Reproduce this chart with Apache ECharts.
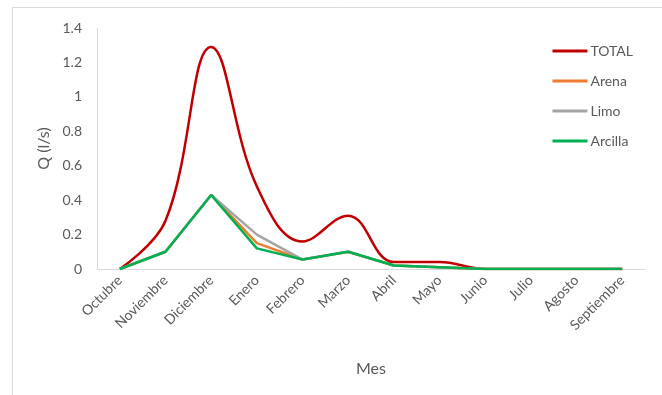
<!DOCTYPE html>
<html><head><meta charset="utf-8">
<script src="https://cdn.jsdelivr.net/npm/echarts@6/dist/echarts.min.js"></script>
<style>html,body{margin:0;padding:0;background:#fff}#c{width:662px;height:395px}</style>
</head><body><div id="c"></div>
<script>
const categories = ['Octubre','Noviembre','Diciembre','Enero','Febrero','Marzo','Abril','Mayo','Junio','Julio','Agosto','Septiembre'];
const total   = [0, 0.28, 1.29, 0.48, 0.16, 0.31, 0.04, 0.04, 0, 0, 0, 0];
const arena   = [0, 0.10, 0.43, 0.15, 0.055, 0.10, 0.02, 0.01, 0, 0, 0, 0];
const limo    = [0, 0.10, 0.43, 0.20, 0.055, 0.10, 0.02, 0.01, 0, 0, 0, 0];
const arcilla = [0, 0.10, 0.43, 0.12, 0.055, 0.10, 0.02, 0.01, 0, 0, 0, 0];
const yTicks = [0, 0.2, 0.4, 0.6, 0.8, 1, 1.2, 1.4];

const FONT = 'Lato';
const TXT = '#595959';
const chart = echarts.init(document.getElementById('c'), null, {renderer:'canvas'});
function line(name, data, color, smooth){
  return {name, type:'line', data, smooth, showSymbol:false, symbol:'none',
    lineStyle:{color, width:2.5}, itemStyle:{color}, animation:false};
}
chart.setOption({
  animation:false,
  textStyle:{fontFamily:FONT},
  graphic:[{type:'rect', shape:{x:12.5,y:7.5,width:660,height:420}, style:{fill:'none', stroke:'#D9D9D9', lineWidth:1}, silent:true}],
  grid:{left:97, right:17, top:28, bottom:126},
  legend:{
    orient:'vertical', right:24, top:39, itemWidth:35, itemHeight:3, itemGap:16,
    icon:'rect',
    textStyle:{fontFamily:FONT, fontSize:14, color:TXT, padding:[0,0,0,-2]},
    data:['TOTAL','Arena','Limo','Arcilla']
  },
  xAxis:{
    type:'category', data:categories, boundaryGap:true,
    axisLine:{lineStyle:{color:'#D9D9D9', width:1}},
    axisTick:{show:false},
    axisLabel:{rotate:45, color:TXT, fontFamily:FONT, fontSize:14, margin:9, interval:0},
    name:'Mes', nameLocation:'middle', nameGap:92,
    nameTextStyle:{color:TXT, fontFamily:FONT, fontSize:16}
  },
  yAxis:{
    type:'value', min:0, max:1.4, interval:0.2,
    axisLine:{show:true, lineStyle:{color:'#D9D9D9', width:1}},
    axisTick:{show:false},
    splitLine:{show:false},
    axisLabel:{color:TXT, fontFamily:FONT, fontSize:14, margin:15,
      formatter:v=>{const t=yTicks.find(x=>Math.abs(x-v)<1e-9); return t===undefined?'':String(t);}},
    name:'Q (l/s)', nameLocation:'middle', nameRotate:90, nameGap:43,
    nameTextStyle:{color:TXT, fontFamily:FONT, fontSize:16}
  },
  series:[
    line('TOTAL', total, '#C00000', 0.4),
    line('Arena', arena, '#ED7D31', false),
    line('Limo', limo, '#A5A5A5', false),
    line('Arcilla', arcilla, '#00B050', false)
  ]
});
</script></body></html>
